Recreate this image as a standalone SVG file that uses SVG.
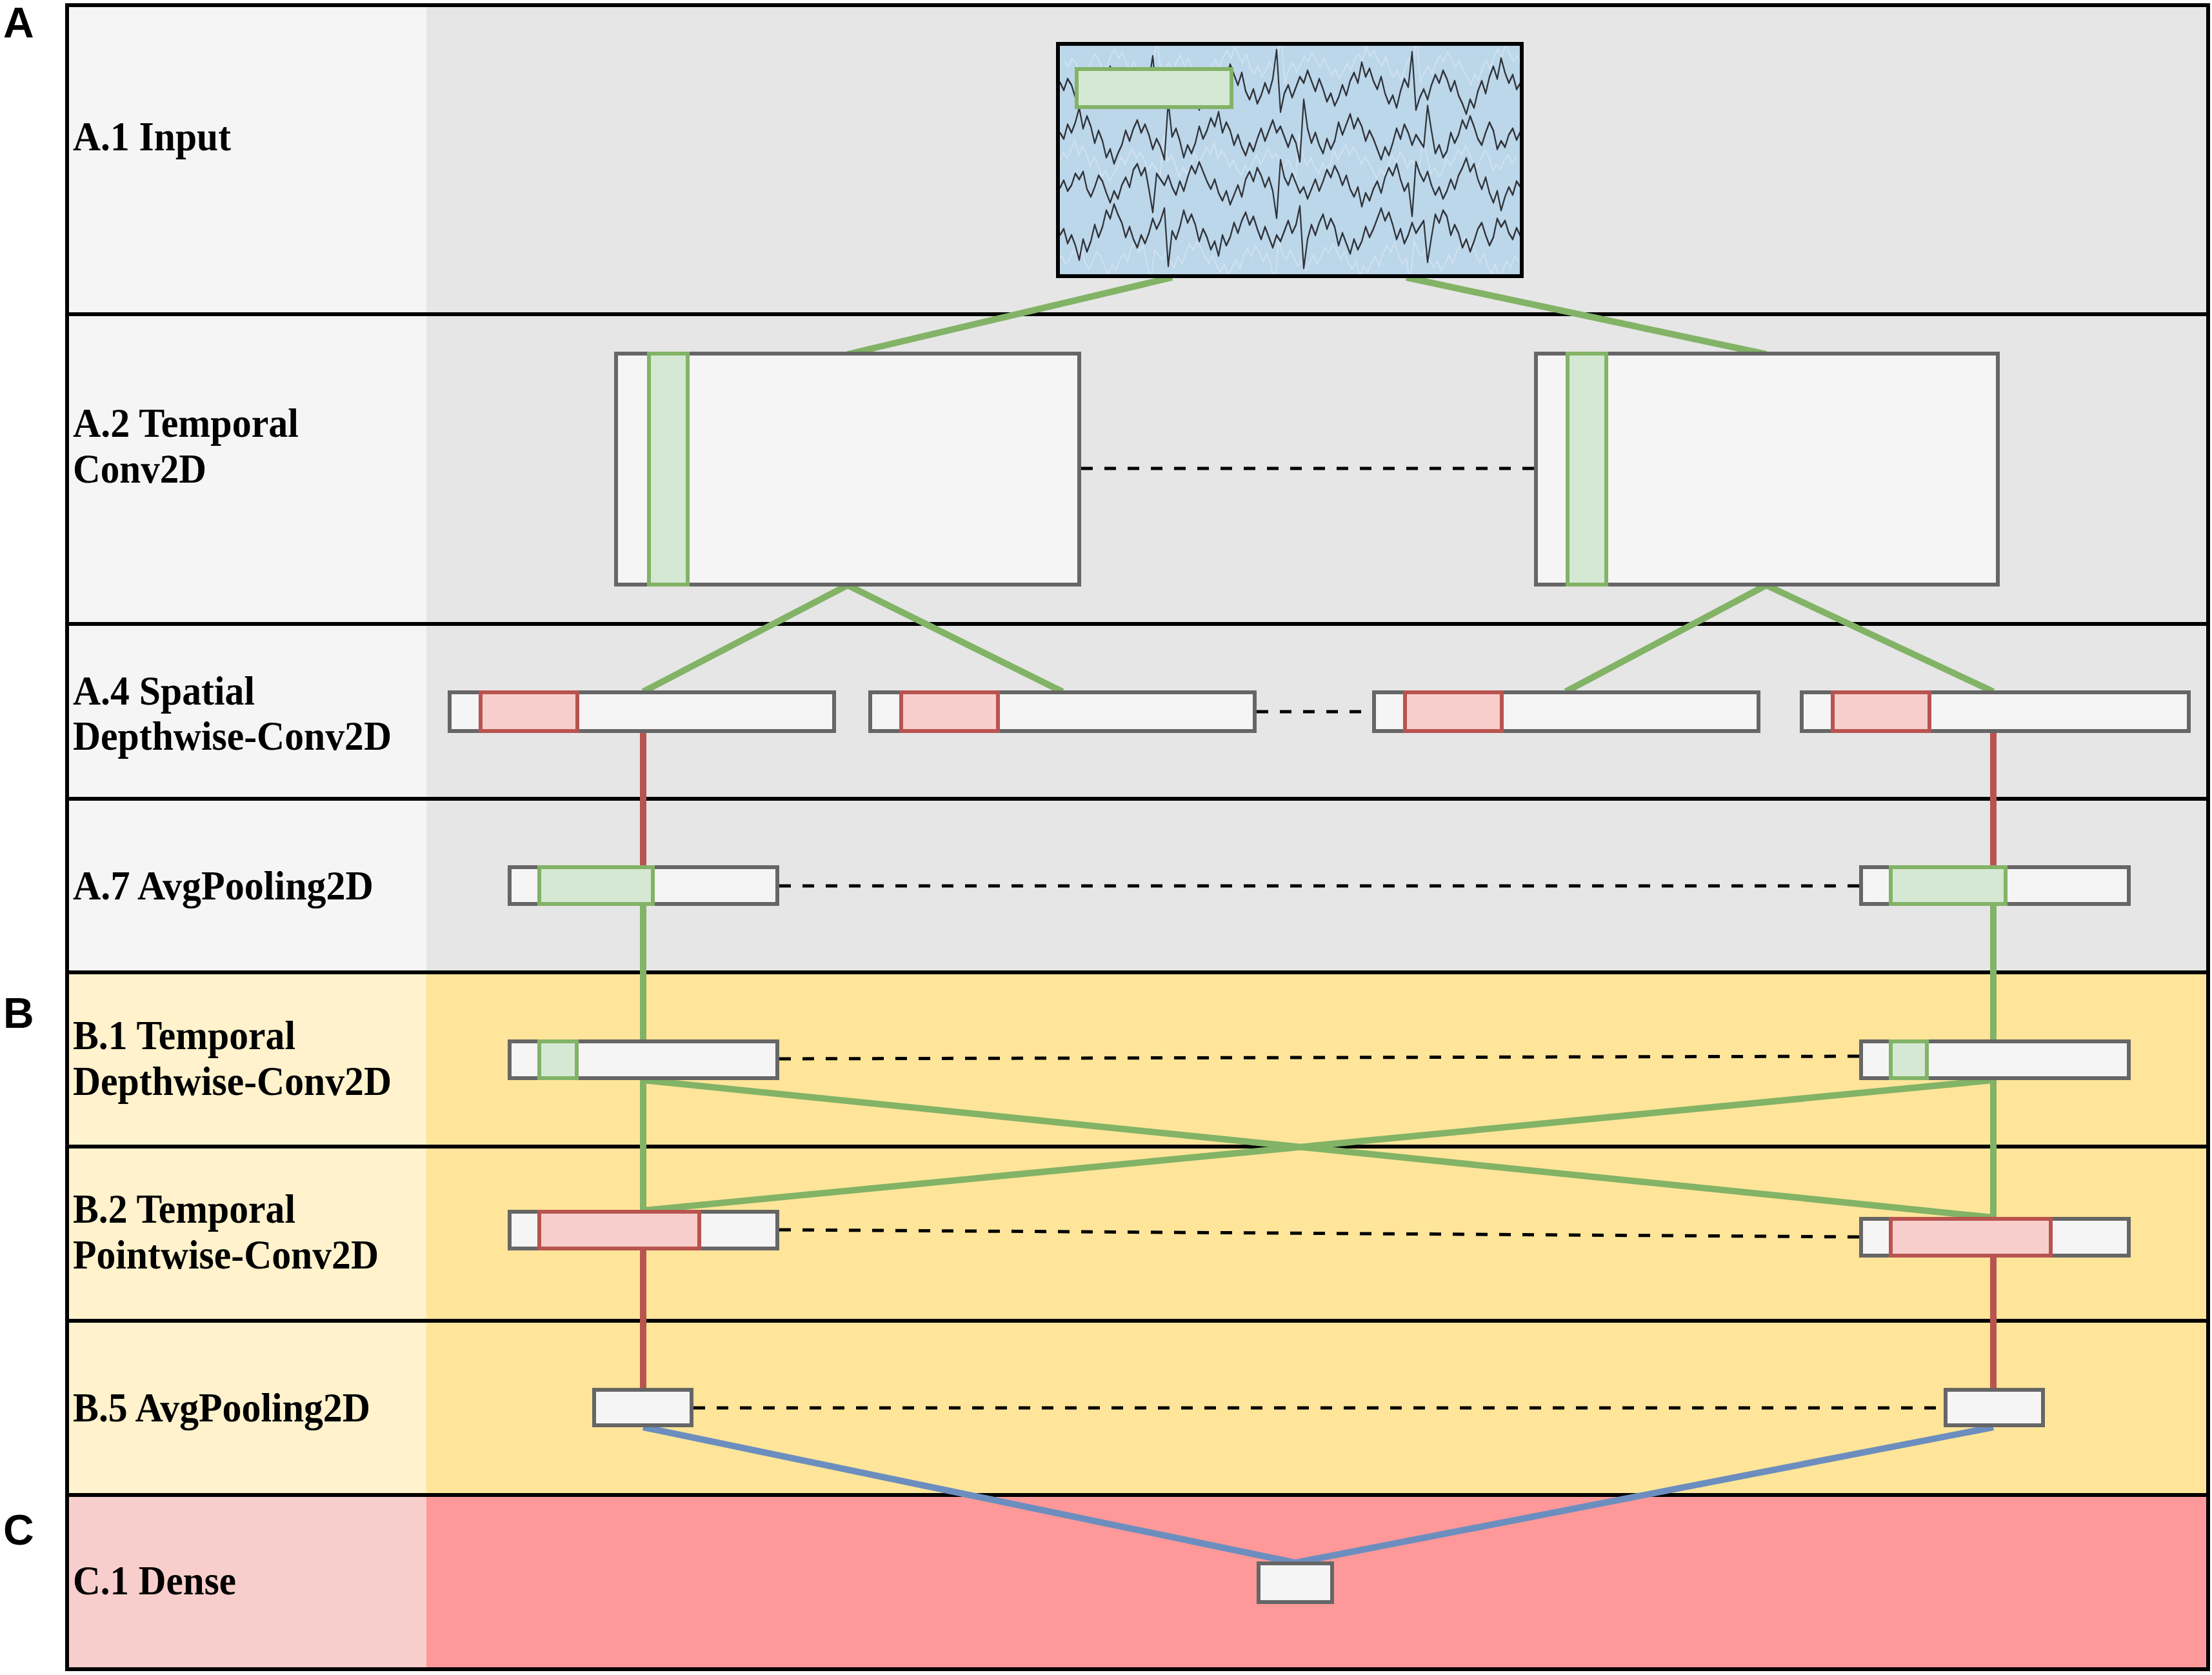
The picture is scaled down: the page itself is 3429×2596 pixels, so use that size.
<svg xmlns="http://www.w3.org/2000/svg" xmlns:xlink="http://www.w3.org/1999/xlink" width="3429" height="2596" viewBox="0 0 3429 2596">
<style>
.lbl{font-family:"Liberation Serif","Times New Roman",serif;font-weight:bold;font-size:63px;fill:#000}
.sec{font-family:"Liberation Sans",Arial,sans-serif;font-weight:bold;font-size:66px;fill:#000}
.box{fill:#f5f5f5;stroke:#666666;stroke-width:6}
.gk{fill:#d5e8d4;stroke:#82b366;stroke-width:6}
.rk{fill:#f8cecc;stroke:#b85450;stroke-width:6}
.sep{stroke:#000;stroke-width:6;fill:none}
.g{stroke:#82b366;stroke-width:10;fill:none}
.r{stroke:#b85450;stroke-width:10;fill:none}
.b{stroke:#6c8ebf;stroke-width:10;fill:none}
.d{stroke:#000;stroke-width:5;stroke-dasharray:18 18;fill:none}
.eeg{fill:none;stroke:#2f3338;stroke-width:2.2;stroke-linejoin:round}
.eegf{fill:none;stroke:#e4eef6;stroke-width:2;opacity:0.5}
</style>
<defs>
<path id="trace" d="M0,-5 L6,3 L12,-8 L18,-2 L24,10 L30,4 L36,12 L42,-6 L48,-14 L54,-4 L60,8 L66,2 L72,-10 L78,-20 L84,-8 L90,-16 L96,-2 L102,6 L108,-4 L114,14 L120,20 L126,8 L132,16 L138,-6 L144,-30 L150,10 L156,4 L162,-2 L168,8 L174,-4 L180,-12 L186,2 L192,-8 L198,6 L204,18 L210,10 L216,22 L222,12 L228,2 L234,-6 L240,4 L246,-10 L252,-18 L258,-8 L264,-22 L270,-12 L276,-2 L282,-14 L288,4 L294,12 L300,2 L306,16 L312,8 L318,-4 L324,6 L330,-8 L336,-36 L342,24 L348,6 L354,-2 L360,10 L366,0 L372,-10 L378,-4 L384,-16 L390,-6 L396,4 L402,-8 L408,2 L414,14 L420,6 L426,18 L432,10 L438,-2 L444,8 L450,-6 L456,-14 L462,-4 L468,-24 L474,-10 L480,-18 L486,-6 L492,2 L498,-10 L504,6 L510,16 L516,8 L522,20 L528,4 L534,-8 L540,0 L546,-34 L552,22 L558,10 L564,2 L570,12 L576,-2 L582,-12 L588,-4 L594,-16 L600,-8 L606,4 L612,-6 L618,8 L624,16 L630,26 L636,12 L642,20 L648,4 L654,-6 L660,6 L666,-10 L672,-20 L678,-8 L684,-28 L690,-14 L696,-4 L702,-12 L708,2 L714,-4"/>
<clipPath id="inclip"><rect x="1643" y="71" width="713" height="354"/></clipPath>
</defs>

<g id="background">
<rect x="104" y="8" width="557" height="1499" fill="#f5f5f5"/>
<rect x="661" y="8" width="2762" height="1499" fill="#e6e6e6"/>
<rect x="104" y="1507" width="557" height="810" fill="#fff2cc"/>
<rect x="661" y="1507" width="2762" height="810" fill="#ffe599"/>
<rect x="104" y="2317" width="557" height="270" fill="#f8cecc"/>
<rect x="661" y="2317" width="2762" height="270" fill="#ff9999"/>
<rect x="104" y="8" width="3319" height="2579" class="sep"/>
<line x1="104" y1="487" x2="3423" y2="487" class="sep"/>
<line x1="104" y1="967" x2="3423" y2="967" class="sep"/>
<line x1="104" y1="1238" x2="3423" y2="1238" class="sep"/>
<line x1="104" y1="1507" x2="3423" y2="1507" class="sep"/>
<line x1="104" y1="1777" x2="3423" y2="1777" class="sep"/>
<line x1="104" y1="2047" x2="3423" y2="2047" class="sep"/>
<line x1="104" y1="2317" x2="3423" y2="2317" class="sep"/>
</g>

<g id="section-labels">
<text class="sec" x="5" y="58">A</text>
<text class="sec" x="5" y="1593">B</text>
<text class="sec" x="5" y="2394">C</text>
</g>

<g id="row-labels">
<text class="lbl" x="113" y="233" textLength="245" lengthAdjust="spacingAndGlyphs">A.1 Input</text>
<text class="lbl" x="113" y="677" textLength="350" lengthAdjust="spacingAndGlyphs">A.2 Temporal</text>
<text class="lbl" x="113" y="748" textLength="207" lengthAdjust="spacingAndGlyphs">Conv2D</text>
<text class="lbl" x="113" y="1092" textLength="282" lengthAdjust="spacingAndGlyphs">A.4 Spatial</text>
<text class="lbl" x="113" y="1162" textLength="494" lengthAdjust="spacingAndGlyphs">Depthwise-Conv2D</text>
<text class="lbl" x="113" y="1394" textLength="466" lengthAdjust="spacingAndGlyphs">A.7 AvgPooling2D</text>
<text class="lbl" x="113" y="1626" textLength="345" lengthAdjust="spacingAndGlyphs">B.1 Temporal</text>
<text class="lbl" x="113" y="1697" textLength="494" lengthAdjust="spacingAndGlyphs">Depthwise-Conv2D</text>
<text class="lbl" x="113" y="1895" textLength="345" lengthAdjust="spacingAndGlyphs">B.2 Temporal</text>
<text class="lbl" x="113" y="1966" textLength="474" lengthAdjust="spacingAndGlyphs">Pointwise-Conv2D</text>
<text class="lbl" x="113" y="2203" textLength="461" lengthAdjust="spacingAndGlyphs">B.5 AvgPooling2D</text>
<text class="lbl" x="113" y="2471" textLength="253" lengthAdjust="spacingAndGlyphs">C.1 Dense</text>
</g>

<g id="connectors">
<line class="g" x1="1817" y1="430" x2="1314" y2="549"/>
<line class="g" x1="2180" y1="430" x2="2738" y2="549"/>
<line class="g" x1="1314" y1="907" x2="997" y2="1072"/>
<line class="g" x1="1314" y1="907" x2="1647" y2="1072"/>
<line class="g" x1="2738" y1="907" x2="2427" y2="1072"/>
<line class="g" x1="2738" y1="907" x2="3090" y2="1072"/>
<line class="r" x1="997" y1="1136" x2="997" y2="1342"/>
<line class="r" x1="3090" y1="1136" x2="3090" y2="1342"/>
<line class="g" x1="997" y1="1404" x2="997" y2="1611"/>
<line class="g" x1="3090" y1="1404" x2="3090" y2="1611"/>
<line class="g" x1="997" y1="1674" x2="997" y2="1876"/>
<line class="g" x1="3090" y1="1674" x2="3090" y2="1887"/>
<line class="g" x1="997" y1="1674" x2="3090" y2="1887"/>
<line class="g" x1="3090" y1="1674" x2="997" y2="1876"/>
<line class="r" x1="997" y1="1937" x2="997" y2="2151"/>
<line class="r" x1="3090" y1="1948" x2="3090" y2="2151"/>
<line class="b" x1="997" y1="2212" x2="2008" y2="2422"/>
<line class="b" x1="3090" y1="2212" x2="2008" y2="2422"/>
<line class="d" x1="1676" y1="726" x2="2378" y2="726"/>
<line class="d" x1="1948" y1="1103" x2="2127" y2="1103"/>
<line class="d" x1="1208" y1="1373" x2="2882" y2="1373"/>
<line class="d" x1="1208" y1="1641" x2="2882" y2="1637"/>
<line class="d" x1="1208" y1="1906" x2="2882" y2="1917"/>
<line class="d" x1="1075" y1="2182" x2="3013" y2="2182"/>
</g>

<g id="input-eeg">
<rect x="1640" y="68" width="719" height="360" fill="#bcd6ea"/>
<g clip-path="url(#inclip)">
<use xlink:href="#trace" class="eegf" transform="translate(1650,100) scale(1,1.2)"/>
<use xlink:href="#trace" class="eegf" transform="translate(2350,250) scale(-1,1.2)"/>
<use xlink:href="#trace" class="eegf" transform="translate(1640,400) scale(1,-1.2)"/>
<use xlink:href="#trace" class="eeg" transform="translate(1643,135) scale(1,1.6)"/>
<use xlink:href="#trace" class="eeg" transform="translate(2357,212) scale(-1,1.6)"/>
<use xlink:href="#trace" class="eeg" transform="translate(1643,284) scale(1,-1.5)"/>
<use xlink:href="#trace" class="eeg" transform="translate(2357,358) scale(-1,-1.6)"/>
</g>
<rect x="1669" y="107" width="240" height="59" class="gk"/>
<rect x="1640" y="68" width="719" height="360" fill="none" stroke="#000" stroke-width="6"/>
</g>

<g id="a2-left"><rect class="box" x="955" y="548" width="718" height="358"/><rect class="gk" x="1006" y="548" width="60" height="358"/></g>
<g id="a2-right"><rect class="box" x="2381" y="548" width="716" height="358"/><rect class="gk" x="2430" y="548" width="60" height="358"/></g>

<g id="a4-1"><rect class="box" x="697" y="1073" width="596" height="60"/><rect class="rk" x="745" y="1073" width="150" height="60"/></g>
<g id="a4-2"><rect class="box" x="1349" y="1073" width="596" height="60"/><rect class="rk" x="1397" y="1073" width="150" height="60"/></g>
<g id="a4-3"><rect class="box" x="2130" y="1073" width="596" height="60"/><rect class="rk" x="2178" y="1073" width="150" height="60"/></g>
<g id="a4-4"><rect class="box" x="2793" y="1073" width="600" height="60"/><rect class="rk" x="2841" y="1073" width="150" height="60"/></g>

<g id="a7-left"><rect class="box" x="790" y="1344" width="415" height="57"/><rect class="gk" x="836" y="1344" width="176" height="57"/></g>
<g id="a7-right"><rect class="box" x="2885" y="1344" width="415" height="57"/><rect class="gk" x="2931" y="1344" width="178" height="57"/></g>

<g id="b1-left"><rect class="box" x="790" y="1614" width="415" height="57"/><rect class="gk" x="836" y="1614" width="58" height="57"/></g>
<g id="b1-right"><rect class="box" x="2885" y="1614" width="415" height="57"/><rect class="gk" x="2931" y="1614" width="56" height="57"/></g>

<g id="b2-left"><rect class="box" x="790" y="1878" width="415" height="57"/><rect class="rk" x="836" y="1878" width="248" height="57"/></g>
<g id="b2-right"><rect class="box" x="2885" y="1889" width="415" height="57"/><rect class="rk" x="2931" y="1889" width="248" height="57"/></g>

<g id="b5-left"><rect class="box" x="921" y="2154" width="151" height="55"/></g>
<g id="b5-right"><rect class="box" x="3016" y="2154" width="151" height="55"/></g>

<g id="c1-dense"><rect class="box" x="1951" y="2423" width="114" height="60"/></g>
</svg>
